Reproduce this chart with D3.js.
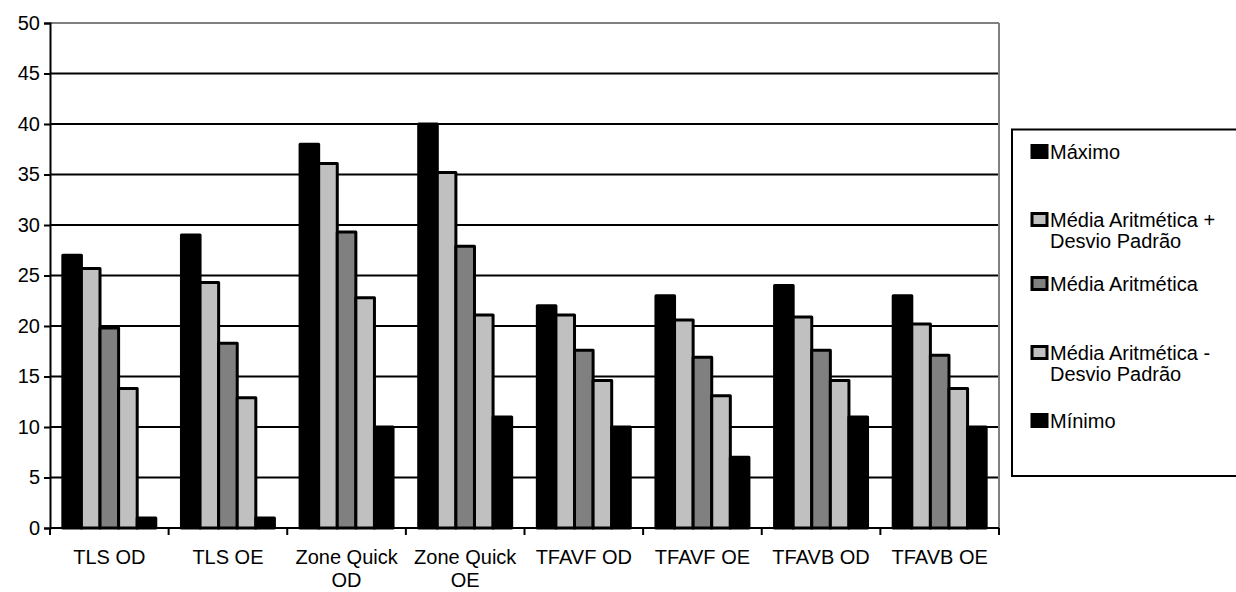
<!DOCTYPE html>
<html>
<head>
<meta charset="utf-8">
<script src="https://cdn.jsdelivr.net/npm/d3@7"></script>
<style>
  html, body { margin: 0; padding: 0; background: #fff; }
  svg { display: block; font-family: "Liberation Sans", Arial, sans-serif; }
</style>
</head>
<body>
<svg id="chart" width="1236" height="592"></svg>
<script>
// Categories (each label split into display lines)
const categories = ["TLS OD", "TLS OE", "Zone Quick OD", "Zone Quick OE", "TFAVF OD", "TFAVF OE", "TFAVB OD", "TFAVB OE"];
const categoryLines = [["TLS OD"], ["TLS OE"], ["Zone Quick", "OD"], ["Zone Quick", "OE"], ["TFAVF OD"], ["TFAVF OE"], ["TFAVB OD"], ["TFAVB OE"]];

// Series names and values
const seriesNames = ["Máximo", "Média Aritmética + Desvio Padrão", "Média Aritmética", "Média Aritmética - Desvio Padrão", "Mínimo"];
const legendLines = [["Máximo"], ["Média Aritmética +", "Desvio Padrão"], ["Média Aritmética"], ["Média Aritmética -", "Desvio Padrão"], ["Mínimo"]];
const maximo      = [27, 29, 38, 40, 22, 23, 24, 23];
const mediaMaisDP = [25.7, 24.3, 36.1, 35.2, 21.1, 20.6, 20.9, 20.2];
const media       = [19.8, 18.3, 29.3, 27.9, 17.6, 16.9, 17.6, 17.1];
const mediaMenosDP= [13.8, 12.9, 22.8, 21.1, 14.6, 13.1, 14.6, 13.8];
const minimo      = [1, 1, 10, 11, 10, 7, 11, 10];
const seriesFills = ["#000000", "#c0c0c0", "#808080", "#c0c0c0", "#000000"];

const yTicks = [0, 5, 10, 15, 20, 25, 30, 35, 40, 45, 50];

const seriesValues = [maximo, mediaMaisDP, media, mediaMenosDP, minimo];

const svg = d3.select("#chart");
const plot = { left: 50, right: 999, top: 23, bottom: 528 };

const y = d3.scaleLinear().domain([0, 50]).range([plot.bottom, plot.top]);
const x0 = d3.scaleBand().domain(categories).range([plot.left, plot.right]).paddingInner(0).paddingOuter(0);
const x1 = d3.scaleBand().domain(seriesNames).range([0, x0.bandwidth()]).paddingInner(0).paddingOuter(0.69);

// Horizontal gridlines
svg.append("g").selectAll("line").data(yTicks.filter(t => t > 0)).join("line")
  .attr("x1", plot.left).attr("x2", plot.right)
  .attr("y1", d => y(d)).attr("y2", d => y(d))
  .attr("stroke", d => d === 50 ? "#808080" : "#000")
  .attr("stroke-width", 2);

// Right border of plot area
svg.append("line")
  .attr("x1", plot.right).attr("x2", plot.right)
  .attr("y1", plot.top).attr("y2", plot.bottom)
  .attr("stroke", "#808080").attr("stroke-width", 2);

// Bars
const groups = svg.append("g").selectAll("g").data(categories).join("g")
  .attr("transform", d => `translate(${x0(d)},0)`);
groups.selectAll("rect")
  .data((c, i) => seriesNames.map((s, j) => ({ s, v: seriesValues[j][i], j })))
  .join("rect")
  .attr("x", d => x1(d.s))
  .attr("width", x1.bandwidth())
  .attr("y", d => y(d.v))
  .attr("height", d => y(0) - y(d.v))
  .attr("fill", d => seriesFills[d.j])
  .attr("stroke", "#000")
  .attr("stroke-width", 3)
  .attr("stroke-linejoin", "round");

// Y axis
const yAxis = svg.append("g").attr("transform", `translate(${plot.left},0)`)
  .call(d3.axisLeft(y).tickValues(yTicks).tickSize(6).tickPadding(4));
yAxis.select(".domain").attr("stroke", "#000").attr("stroke-width", 2);
yAxis.selectAll(".tick line").attr("stroke", "#000").attr("stroke-width", 2);
yAxis.selectAll(".tick text").attr("font-size", 20).attr("fill", "#000")
  .attr("font-family", "'Liberation Sans', Arial, sans-serif");

// X axis baseline with category boundary ticks
const xg = svg.append("g");
xg.append("line").attr("x1", plot.left).attr("x2", plot.right)
  .attr("y1", plot.bottom).attr("y2", plot.bottom)
  .attr("stroke", "#000").attr("stroke-width", 2);
const boundaries = categories.map(c => x0(c)).concat([x0(categories[categories.length - 1]) + x0.bandwidth()]);
xg.selectAll("line.b").data(boundaries).join("line").attr("class", "b")
  .attr("x1", d => d).attr("x2", d => d)
  .attr("y1", plot.bottom).attr("y2", plot.bottom + 7)
  .attr("stroke", "#000").attr("stroke-width", 2);

// Category labels
const labels = xg.selectAll("text").data(categories).join("text")
  .attr("text-anchor", "middle")
  .attr("font-size", 20)
  .attr("fill", "#000")
  .attr("transform", d => `translate(${x0(d) + x0.bandwidth() / 2},564)`);
labels.selectAll("tspan").data((d, i) => categoryLines[i]).join("tspan")
  .attr("x", 0).attr("y", (d, k) => k * 23)
  .text(d => d);

// Legend
const legend = svg.append("g");
legend.append("rect")
  .attr("x", 1012).attr("y", 129.5).attr("width", 240).attr("height", 346.5)
  .attr("fill", "#fff").attr("stroke", "#000").attr("stroke-width", 2);
const legendY = [152, 220, 284, 353, 421];
const items = legend.selectAll("g.item").data(seriesNames).join("g").attr("class", "item")
  .attr("transform", (d, i) => `translate(1031,${legendY[i]})`);
items.append("rect")
  .attr("x", 1).attr("y", -6.5).attr("width", 15).attr("height", 12)
  .attr("fill", (d, i) => seriesFills[i])
  .attr("stroke", "#000").attr("stroke-width", 3);
const lt = items.append("text").attr("font-size", 20).attr("fill", "#000");
lt.selectAll("tspan").data((d, i) => legendLines[i]).join("tspan")
  .attr("x", 19).attr("y", (d, k) => k * 21 + 7)
  .text(d => d);
</script>
</body>
</html>
